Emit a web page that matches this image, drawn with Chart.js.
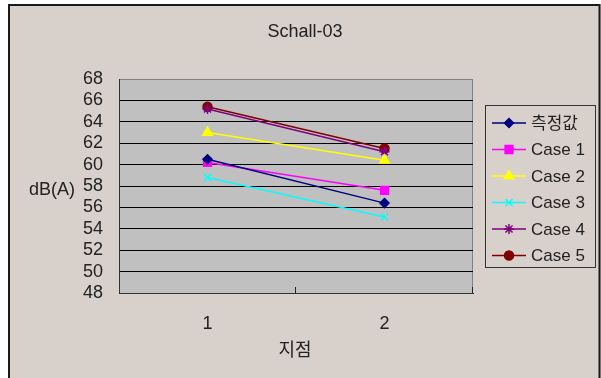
<!DOCTYPE html>
<html>
<head>
<meta charset="utf-8">
<script src="https://cdn.jsdelivr.net/npm/chart.js@4"></script>
<style>
  html, body { margin: 0; padding: 0; background: #fff; }
  #wrap { width: 601px; height: 378px; }
</style>
</head>
<body>
<div id="wrap"><canvas id="chart" width="601" height="378"></canvas></div>
<script>
const FONT = '"Liberation Sans", Arial, "Noto Sans CJK KR", sans-serif';
const TEXT = '#222';

const points = ['1', '2'];
const seriesNames = ['측정값', 'Case 1', 'Case 2', 'Case 3', 'Case 4', 'Case 5'];
const measured = [60.5, 56.4];
const case1 = [60.2, 57.6];
const case2 = [63.0, 60.4];
const case3 = [58.8, 55.1];
const case4 = [65.2, 61.2];
const case5 = [65.4, 61.5];
const yTicks = [48, 50, 52, 54, 56, 58, 60, 62, 64, 66, 68];

const colors = ['#000080', '#ff00ff', '#ffff00', '#00ffff', '#800080', '#800000'];
const markers = [
  { style: 'rectRot', r: 4.5 },
  { style: 'rect', r: 5.5 },
  { style: 'triangle', r: 5.5 },
  { style: 'crossRot', r: 5 },
  { style: 'star', r: 5 },
  { style: 'circle', r: 4.5 },
];
const values = [measured, case1, case2, case3, case4, case5];

const datasets = values.map((data, i) => ({
  label: seriesNames[i],
  data,
  borderColor: colors[i],
  backgroundColor: colors[i],
  pointBorderColor: colors[i],
  pointBackgroundColor: colors[i],
  pointStyle: markers[i].style,
  pointRadius: markers[i].r,
  pointBorderWidth: 1.5,
  borderWidth: 1.5,
  tension: 0,
}));

// frame, plot background, inner tick marks, titles and legend box
const decor = {
  id: 'decor',
  beforeDraw(chart) {
    const { ctx, chartArea: a } = chart;
    ctx.save();
    ctx.fillStyle = '#fff';
    ctx.fillRect(0, 0, chart.width, chart.height);
    ctx.fillStyle = '#d8d0ca';
    ctx.fillRect(8, 4, 593, 374);
    ctx.strokeStyle = '#1a1a1a';
    ctx.lineWidth = 2;
    ctx.beginPath();
    ctx.moveTo(9, 378);
    ctx.lineTo(9, 5);
    ctx.lineTo(599.5, 5);
    ctx.lineTo(599.5, 378);
    ctx.stroke();
    ctx.fillStyle = '#c0c0c0';
    ctx.fillRect(a.left, a.top, a.right - a.left, a.bottom - a.top);
    ctx.strokeStyle = '#808080';
    ctx.lineWidth = 1;
    ctx.beginPath();
    ctx.moveTo(a.right - 0.5, a.bottom);
    ctx.lineTo(a.right - 0.5, a.top);
    ctx.stroke();
    ctx.restore();
  },
  afterDraw(chart) {
    const { ctx, chartArea: a, scales: { x } } = chart;
    ctx.save();
    // category separators drawn upward from the axis
    const half = (x.getPixelForValue(1) - x.getPixelForValue(0)) / 2;
    ctx.strokeStyle = '#222';
    ctx.lineWidth = 1;
    [x.getPixelForValue(0) + half, x.getPixelForValue(1) + half].forEach((px) => {
      const xx = Math.round(px) - 0.5;
      ctx.beginPath();
      ctx.moveTo(xx, a.bottom);
      ctx.lineTo(xx, a.bottom - 6);
      ctx.stroke();
    });

    ctx.fillStyle = TEXT;
    ctx.font = '18px ' + FONT;
    ctx.textAlign = 'center';
    ctx.textBaseline = 'middle';
    ctx.fillText('Schall-03', 305, 32);
    ctx.fillText('지점', 295, 351);
    ctx.fillText('dB(A)', 52, 190);

    // legend
    ctx.strokeStyle = '#333';
    ctx.lineWidth = 1;
    ctx.strokeRect(485.5, 105.5, 110, 162);
    ctx.font = '17px ' + FONT;
    ctx.textAlign = 'left';
    seriesNames.forEach((name, i) => {
      const y = 123 + i * 26.5;
      ctx.strokeStyle = colors[i];
      ctx.fillStyle = colors[i];
      ctx.lineWidth = 1.5;
      ctx.beginPath();
      ctx.moveTo(492, y);
      ctx.lineTo(526, y);
      ctx.stroke();
      Chart.helpers.drawPoint(ctx, {
        pointStyle: markers[i].style,
        radius: markers[i].r,
        rotation: 0,
        borderWidth: 1.5,
      }, 509, y);
      ctx.fillStyle = TEXT;
      ctx.fillText(name, 531, y + 1);
    });
    ctx.restore();
  },
};

new Chart(document.getElementById('chart'), {
  type: 'line',
  data: { labels: points, datasets },
  options: {
    responsive: false,
    animation: false,
    layout: { padding: { top: 79, right: 128, bottom: 0, left: 0 } },
    plugins: { legend: { display: false }, tooltip: { enabled: false } },
    scales: {
      x: {
        offset: true,
        afterFit: (s) => { s.height = 85; },
        grid: { display: false, drawTicks: false },
        border: { display: true, color: '#333', width: 1 },
        ticks: { color: TEXT, padding: 20, font: { size: 18, family: FONT } },
      },
      y: {
        min: 48,
        max: 68,
        afterFit: (s) => { s.width = 119; },
        afterBuildTicks: (s) => { s.ticks = yTicks.map((v) => ({ value: v })); },
        grid: {
          drawTicks: false,
          color: (c) => (c.tick && c.tick.value === 68 ? '#808080' : '#000'),
          lineWidth: 1,
        },
        border: { display: true, color: '#333', width: 1 },
        ticks: { color: TEXT, padding: 16, autoSkip: false, font: { size: 18, family: FONT } },
      },
    },
  },
  plugins: [decor],
});
</script>
</body>
</html>
